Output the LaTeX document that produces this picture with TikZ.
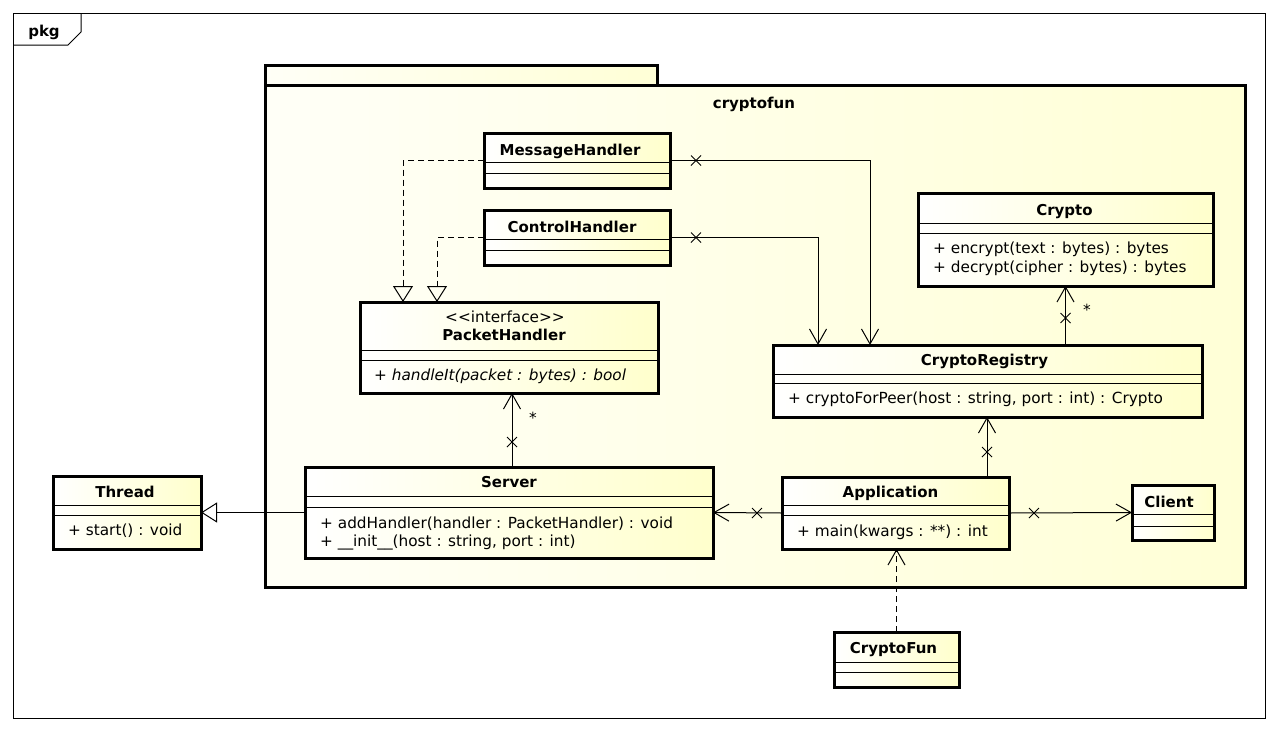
\documentclass[tikz,border=0pt]{standalone}
\usepackage{fontspec}
\setmainfont{DejaVu Sans}
\usetikzlibrary{arrows.meta,calc}

\definecolor{yfill}{RGB}{255,255,204}
\definecolor{pkgL}{RGB}{255,255,247}
\definecolor{pkgR}{RGB}{255,255,214}

\tikzset{
  cbox/.style={draw, line width=3pt, inner sep=0pt, outer sep=0pt,
    left color=white, right color=yfill, anchor=north west},
  pkgbox/.style={draw, line width=3pt, inner sep=0pt, outer sep=0pt,
    left color=pkgL, right color=pkgR, anchor=north west},
  sepline/.style={line width=1pt},
  cname/.style={font=\bfseries\fontsize{15}{18}\selectfont, anchor=base, inner sep=0pt},
  cmeth/.style={font=\fontsize{15.3}{19}\selectfont, anchor=base west, inner sep=0pt},
  ctext/.style={font=\fontsize{15.3}{18}\selectfont, anchor=base, inner sep=0pt},
  conn/.style={line width=1pt},
  nav/.style={conn, -{Straight Barb[length=15pt,width=17pt]}},
  gen/.style={conn, -{Triangle[open,length=16pt,width=20pt]}},
  realize/.style={conn, dash pattern=on 6pt off 4pt, -{Triangle[open,length=16pt,width=20pt]}},
  dep/.style={conn, dash pattern=on 6pt off 4pt, -{Straight Barb[length=15pt,width=17pt]}},
  xmark/.pic={\draw[line width=1pt] (-5,-5) -- (5,5) (-5,5) -- (5,-5);},
}

% class box: name, x1, y1, x2, y2, first separator, second separator
\newcommand\umlbox[7]{%
  \node[cbox, minimum width={#4-#2}, minimum height={#5-#3}] (#1) at (#2,#3) {};
  \draw[sepline] (#2,#6) -- (#4,#6) (#2,#7) -- (#4,#7);}

\begin{document}
\begin{tikzpicture}[x=1pt,y=-1pt]
  \useasboundingbox (0,0) rectangle (1278,732);

  % outer frame with its tab
  \node[draw, line width=1pt, inner sep=0pt, outer sep=0pt, anchor=north west,
        minimum width=1252, minimum height=705] (frame) at (13,13) {};
  \draw[line width=1pt] (frame.north west) ++(0,32) -- ++(55,0) -- ++(13,-13) -- ++(0,-19);
  \node[cname] (pkglabel) at (44,36) {pkg};

  % package cryptofun
  \node[pkgbox, minimum width=392, minimum height=20] (pkgtab) at (265,65) {};
  \node[pkgbox, minimum width=980, minimum height=502] (cryptofun) at (265,85) {};
  \node[cname] (pkgname) at (754,108) {cryptofun};

  % classes
  \umlbox{MessageHandler}{484}{133}{670}{188}{162}{173}
  \umlbox{ControlHandler}{484}{210}{670}{265}{239}{250}
  \umlbox{PacketHandler}{360}{302}{658}{393}{350}{360}
  \umlbox{Crypto}{918}{193}{1213}{286}{223}{233}
  \umlbox{CryptoRegistry}{773}{345}{1202}{417}{374}{383}
  \umlbox{Thread}{53}{476}{201}{549}{505}{515}
  \umlbox{Server}{305}{467}{713}{558}{496}{507}
  \umlbox{Application}{782}{477}{1009}{549}{505}{515}
  \umlbox{Client}{1132}{485}{1214}{540}{514}{526}
  \umlbox{CryptoFun}{834}{632}{959}{687}{662}{672}

  % class names
  \node[cname] (nMessageHandler) at ($(MessageHandler.north)+(-7,22)$) {MessageHandler};
  \node[cname] (nControlHandler) at ($(ControlHandler.north)+(-5,22)$) {ControlHandler};
  \node[ctext] (sPacketHandler) at ($(PacketHandler.north)+(-4,20)$) {{<}{<}interface{>}{>}};
  \node[cname] (nPacketHandler) at ($(PacketHandler.north)+(-5,38)$) {PacketHandler};
  \node[cname] (nCrypto) at ($(Crypto.north)+(-1,22)$) {Crypto};
  \node[cname] (nCryptoRegistry) at ($(CryptoRegistry.north)+(-3,20)$) {CryptoRegistry};
  \node[cname] (nThread) at ($(Thread.north)+(-2,21)$) {Thread};
  \node[cname] (nServer) at ($(Server.north)+(0,20)$) {Server};
  \node[cname] (nApplication) at ($(Application.north)+(-5,20)$) {Application};
  \node[cname] (nClient) at ($(Client.north)+(-4,22)$) {Client};
  \node[cname] (nCryptoFun) at ($(CryptoFun.north)+(-3,21)$) {CryptoFun};

  % operations
  \node[cmeth, font=\itshape\fontsize{15.3}{19}\selectfont] (mPacketHandler) at (374,380)
    {+ handleIt(packet : bytes) : bool};
  \node[cmeth] (mCrypto1) at (933,253) {+ encrypt(text : bytes) : bytes};
  \node[cmeth] (mCrypto2) at (933,272) {+ decrypt(cipher : bytes) : bytes};
  \node[cmeth] (mCryptoRegistry) at (788,403) {+ cryptoForPeer(host : string, port : int) : Crypto};
  \node[cmeth] (mThread) at (68,535) {+ start() : void};
  \node[cmeth] (mServer1) at (320,528) {+ addHandler(handler : PacketHandler) : void};
  \node[cmeth] (mServer2) at (320,546) {+ \_\_init\_\_(host : string, port : int)};
  \node[cmeth] (mApplication) at (797,536) {+ main(kwargs : **) : int};

  % realizations of PacketHandler
  \draw[realize] (MessageHandler.west) -| ($(PacketHandler.north west)+(43,0)$);
  \draw[realize] (ControlHandler.west) -| ($(PacketHandler.north west)+(77,0)$);

  % associations
  \draw[nav] (MessageHandler.east) -| ($(CryptoRegistry.north west)+(97,0)$);
  \pic at ($(MessageHandler.east)+(26,0)$) {xmark};
  \draw[nav] (ControlHandler.east) -| ($(CryptoRegistry.north west)+(45,0)$);
  \pic at ($(ControlHandler.east)+(26,0)$) {xmark};

  \draw[nav] (Crypto.south |- CryptoRegistry.north) -- (Crypto.south);
  \pic at ($(Crypto.south |- CryptoRegistry.north)+(0,-27)$) {xmark};
  \node[ctext] (mulCrypto) at (1087,315) {*};

  \draw[nav] ($(Server.north)+(3,0)$) -- ($(PacketHandler.south)+(3,0)$);
  \pic at ($(Server.north)+(3,-25)$) {xmark};
  \node[ctext] (mulHandler) at (533,423) {*};

  \draw[nav] (Application.west) -- (Server.east);
  \pic at ($(Application.west)+(-25,0)$) {xmark};
  \draw[nav] (Application.east) -- (Client.west);
  \pic at ($(Application.east)+(25,0)$) {xmark};
  \draw[nav] ($(Application.north east)+(-22,0)$) coordinate (appTop)
    -- (appTop |- CryptoRegistry.south);
  \pic at ($(appTop)+(0,-25)$) {xmark};

  % dependency and generalization
  \draw[dep] (CryptoFun.north) -- (CryptoFun.north |- Application.south);
  \draw[gen] (Server.west) -- (Thread.east);
\end{tikzpicture}
\end{document}
